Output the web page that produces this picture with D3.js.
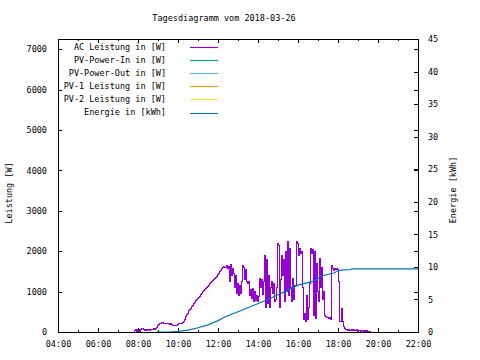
<!DOCTYPE html>
<html><head><meta charset="utf-8">
<script src="https://cdn.jsdelivr.net/npm/d3@7/dist/d3.min.js"></script>
<style>
body{margin:0;background:#fff}
svg{display:block}
text{font-family:"DejaVu Sans Mono",monospace;font-size:8.5px;fill:#000}
</style>
</head><body><svg id="c" width="480" height="360"></svg>
<script>
const title = "Tagesdiagramm vom 2018-03-26";
const yLabel = "Leistung [W]";
const y2Label = "Energie [kWh]";
const legendLabels = ["AC Leistung in [W]","PV-Power-In in [W]","PV-Power-Out in [W]","PV-1 Leistung in [W]","PV-2 Leistung in [W]","Energie in [kWh]"];
const legendColors = ["#9400d3","#009e73","#56b4e9","#e69f00","#f0e442","#0072b2"];
const xMajorTicks = ["04:00","06:00","08:00","10:00","12:00","14:00","16:00","18:00","20:00","22:00"];
const xMinorTicks = ["05:00","07:00","09:00","11:00","13:00","15:00","17:00","19:00","21:00"];
const yTicks = [0,1000,2000,3000,4000,5000,6000,7000];
const y2Ticks = [0,5,10,15,20,25,30,35,40,45];

const acTime = ["07:45","07:48","07:51","07:54","07:57","08:00","08:03","08:06","08:09","08:12","08:15","08:18","08:21","08:24","08:27","08:30","08:33","08:36","08:39","08:42","08:45","08:48","08:51","08:54","08:57",
"09:00","09:03","09:06","09:09","09:12","09:15","09:18","09:21","09:24","09:27","09:30","09:33","09:36","09:39","09:42","09:45","09:48","09:51","09:54","09:57",
"10:00","10:03","10:06","10:09","10:12","10:15","10:18","10:21","10:24","10:27","10:30","10:33","10:36","10:39","10:42","10:45","10:48","10:51","10:54","10:57",
"11:00","11:03","11:06","11:09","11:12","11:15","11:18","11:21","11:24","11:27","11:30","11:33","11:36","11:39","11:42","11:45","11:48","11:51","11:54","11:57",
"12:00","12:03","12:06","12:09","12:12","12:15","12:18","12:21","12:24","12:27","12:30","12:33","12:36","12:39","12:42","12:45","12:48","12:51","12:54","12:57",
"13:00","13:03","13:06","13:09","13:12","13:15","13:18","13:21","13:24","13:27","13:30","13:33","13:36","13:39","13:42","13:45","13:48","13:51","13:54","13:57",
"14:00","14:03","14:06","14:09","14:12","14:15","14:18","14:21","14:24","14:27","14:30","14:33","14:36","14:39","14:42","14:45","14:48","14:51","14:54","14:57",
"15:00","15:03","15:06","15:09","15:12","15:15","15:18","15:21","15:24","15:27","15:30","15:33","15:36","15:39","15:42","15:45","15:48","15:51","15:54","15:57",
"16:00","16:03","16:06","16:09","16:12","16:15","16:18","16:21","16:24","16:27","16:30","16:33","16:36","16:39","16:42","16:45","16:48","16:51","16:54","16:57",
"17:00","17:03","17:06","17:09","17:12","17:15","17:18","17:21","17:24","17:27","17:30","17:33","17:36","17:39","17:42","17:45","17:48","17:51","17:54","17:57",
"18:00","18:03","18:06","18:09","18:12","18:15","18:18","18:21","18:24","18:27","18:30","18:33","18:36","18:39","18:42","18:45","18:48","18:51","18:54","18:57",
"19:00","19:03","19:06","19:09","19:12","19:15","19:18","19:21","19:24","19:27","19:30","19:33","19:36"];
const acPower = [0,40,60,20,70,60,10,70,80,80,60,40,60,30,50,50,40,60,50,70,80,60,90,110,150,
180,200,220,240,230,210,210,200,200,210,200,195,200,190,170,165,165,170,165,180,
200,210,200,220,240,270,300,380,430,470,520,550,590,620,660,700,730,770,800,830,
860,890,930,960,1000,1020,1050,1070,1090,1130,1160,1200,1220,1240,1270,1290,1320,1350,1380,1420,
1450,1490,1530,1560,1590,1620,1600,1600,1650,1580,1620,1250,1660,1400,1580,1450,1100,1400,950,1200,
900,1150,950,1250,1650,1600,1300,1550,1250,1200,1250,900,1050,830,1080,750,1000,780,900,750,
880,1330,1100,1300,920,1250,1900,600,1800,700,1400,600,1100,1250,950,1200,750,800,1100,2200,
2150,600,1300,1900,1400,1800,750,1990,1000,2230,900,2070,1100,750,1330,800,1160,1150,2230,2200,
1900,2070,1950,2000,1100,300,450,260,900,300,600,1200,2070,1950,2050,400,1990,340,1700,1000,
750,1820,1100,1600,800,1000,420,380,350,360,330,350,320,1650,1560,1530,1560,1540,1560,1550,
1250,255,255,570,255,130,80,60,50,40,60,30,40,50,30,60,40,30,50,20,
40,30,20,40,30,20,30,20,30,10,20,10,0];

const energyTime = ["08:56","09:40","10:00","10:30","11:00","11:30","12:00","12:20","13:00","13:50","14:30","15:20","16:00","16:50","17:10","17:50","18:00","18:10","18:40","18:42","22:00"];
const energyKWh = [0,0.02,0.1,0.3,0.65,1.1,1.75,2.3,3.1,4.15,5.0,6.2,7.2,7.85,8.6,9.1,9.45,9.5,9.6,9.68,9.68];

const pvIn = [], pvOut = [], pv1 = [], pv2 = [];

const svg = d3.select("#c");
const L = 58, R = 418, T = 39, B = 332;
const parse = d3.timeParse("%H:%M");
const x = d3.scaleTime().domain([parse("04:00"), parse("22:00")]).range([L, R]);
const y = d3.scaleLinear().domain([0, 7250]).range([B, T]);
const y2 = d3.scaleLinear().domain([0, 45]).range([B, T]);

svg.append("text").attr("x", 224).attr("y", 21).attr("text-anchor", "middle").text(title);

function styleAxis(g){ g.select(".domain").remove(); g.selectAll("line").attr("stroke","#000").attr("shape-rendering","crispEdges"); g.selectAll("text").attr("font-family",null).attr("font-size",null); }
svg.append("g").attr("transform",`translate(${L},0)`).call(d3.axisLeft(y).tickValues(yTicks).tickSizeInner(-4).tickSizeOuter(0).tickPadding(11).tickFormat(d3.format("d"))).call(styleAxis);
svg.append("g").attr("transform",`translate(${R},0)`).call(d3.axisRight(y).tickValues(yTicks).tickSizeInner(-4).tickSizeOuter(0).tickFormat("")).call(styleAxis);
svg.append("g").attr("transform",`translate(${R},0)`).call(d3.axisRight(y2).tickValues(y2Ticks).tickSizeInner(-4).tickSizeOuter(0).tickPadding(10).tickFormat(d3.format("d"))).call(styleAxis);
const fmt = d3.timeFormat("%H:%M");
svg.append("g").attr("transform",`translate(0,${B})`).call(d3.axisBottom(x).tickValues(xMajorTicks.map(parse)).tickSizeInner(-4).tickSizeOuter(0).tickPadding(9).tickFormat(fmt)).call(styleAxis);
svg.append("g").attr("transform",`translate(0,${B})`).call(d3.axisBottom(x).tickValues(xMinorTicks.map(parse)).tickSizeInner(-2).tickSizeOuter(0).tickFormat("")).call(styleAxis);
svg.append("g").attr("transform",`translate(0,${T})`).call(d3.axisTop(x).tickValues(xMajorTicks.map(parse)).tickSizeInner(-4).tickSizeOuter(0).tickFormat("")).call(styleAxis);
svg.append("g").attr("transform",`translate(0,${T})`).call(d3.axisTop(x).tickValues(xMinorTicks.map(parse)).tickSizeInner(-2).tickSizeOuter(0).tickFormat("")).call(styleAxis);

svg.append("text").attr("transform","translate(12,193) rotate(-90)").attr("text-anchor","middle").text(yLabel);
svg.append("text").attr("transform","translate(456,190) rotate(-90)").attr("text-anchor","middle").text(y2Label);

const acData = acTime.map((t,i)=>({t:parse(t), v:acPower[i]}));
const enData = energyTime.map((t,i)=>({t:parse(t), v:energyKWh[i]}));
const lineY = d3.line().x(d=>x(d.t)).y(d=>y(d.v)).curve(d3.curveStepAfter);
const lineY2 = d3.line().x(d=>x(d.t)).y(d=>y2(d.v));
svg.append("path").datum(acData).attr("d", lineY).attr("fill","none").attr("stroke",legendColors[0]).attr("stroke-width",1).attr("shape-rendering","crispEdges");
[pvIn,pvOut,pv1,pv2].forEach((s,i)=>{ if(s.length) svg.append("path").datum(s).attr("d",lineY).attr("fill","none").attr("stroke",legendColors[i+1]); });
svg.append("path").datum(enData).attr("d", lineY2).attr("fill","none").attr("stroke",legendColors[5]).attr("stroke-width",1.2);

svg.append("rect").attr("x",L+0.5).attr("y",T+0.5).attr("width",R-L).attr("height",B-T).attr("fill","none").attr("stroke","#000").attr("shape-rendering","crispEdges");

const lg = svg.append("g");
legendLabels.forEach((lab,i)=>{
  const yy = 47 + i*13.1;
  lg.append("text").attr("x",166).attr("y",yy).attr("dy","0.35em").attr("text-anchor","end").text(lab);
  lg.append("line").attr("x1",190).attr("x2",218).attr("y1",Math.round(yy)+0.5).attr("y2",Math.round(yy)+0.5).attr("stroke",legendColors[i]).attr("stroke-width",1.1);
});
</script>
</body></html>
